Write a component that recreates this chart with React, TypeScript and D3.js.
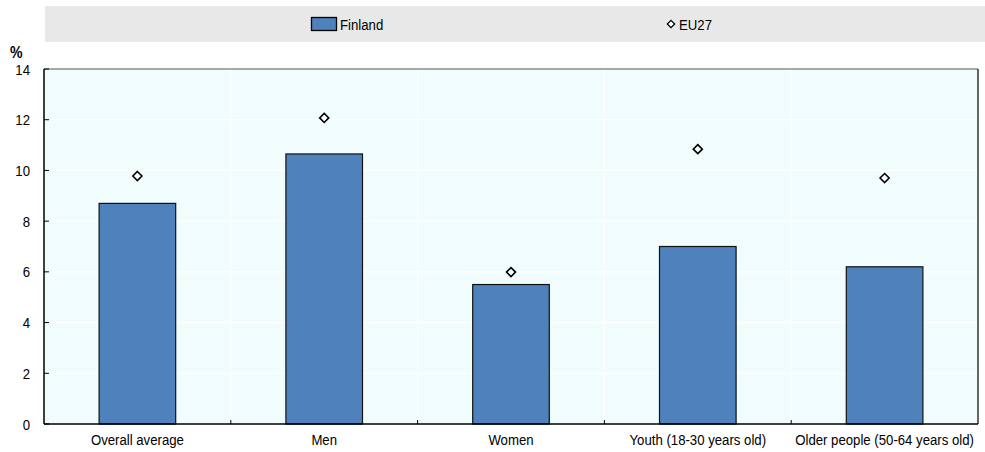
import React from "react";
import * as d3 from "d3";

const categories = ["Overall average", "Men", "Women", "Youth (18-30 years old)", "Older people (50-64 years old)"];
const finland = [8.7, 10.65, 5.5, 7.0, 6.2];
const eu27 = [9.78, 12.07, 5.99, 10.84, 9.7];
const yTicks = [0, 2, 4, 6, 8, 10, 12, 14];

const W = 985, H = 452;
const M = { left: 44, right: 978, top: 69, bottom: 424 };
const FONT = "'Liberation Sans', Arial, sans-serif";
const SX = 0.88;
const FS = 15;

function T({ x, y, anchor = "start", children, size = FS, weight = "normal" }: any) {
  return (
    <text transform={`translate(${x},${y}) scale(${SX},1)`} fontSize={size} fontWeight={weight}
      textAnchor={anchor} fill="#000">{children}</text>
  );
}

export default function App() {
  const x = d3.scaleBand<string>().domain(categories).range([M.left, M.right]).paddingInner(0).paddingOuter(0);
  const y = d3.scaleLinear().domain([0, 14]).range([M.bottom, M.top]);
  const bw = x.bandwidth() * 0.41;
  const diamond = d3.symbol().type(d3.symbolDiamond2).size(52);
  const legDiamond = d3.symbol().type(d3.symbolDiamond2).size(34);
  return (
    <svg width={W} height={H} style={{ position: "absolute", left: 0, top: 0, fontFamily: FONT }}>
      <rect x={45} y={6} width={940} height={36} fill="#e8e8e8" />
      <rect x={311.5} y={17.5} width={25} height={13} fill="#4f81bd" stroke="#000" strokeWidth={1.3} />
      <T x={340} y={29.5}>Finland</T>
      <path d={legDiamond()!} transform="translate(671,24)" fill="#fff" stroke="#000" strokeWidth={1.3} />
      <T x={679} y={29.5}>EU27</T>

      <rect x={M.left} y={M.top} width={M.right - M.left} height={M.bottom - M.top} fill="#f1fdfd" />
      {yTicks.filter(t => t > 0 && t < 14).map(t => (
        <line key={t} x1={M.left} x2={M.right} y1={y(t)} y2={y(t)} stroke="#fff" strokeWidth={1.2} />
      ))}
      {categories.slice(1).map(c => (
        <line key={c} x1={x(c)!} x2={x(c)!} y1={M.top} y2={M.bottom} stroke="#fff" strokeWidth={1.2} />
      ))}
      {categories.map((c, i) => (
        <rect key={c} x={x(c)! + x.bandwidth() / 2 - bw / 2} y={y(finland[i])} width={bw} height={y(0) - y(finland[i])}
          fill="#4f81bd" stroke="#111" strokeWidth={1.2} />
      ))}
      {categories.map((c, i) => (
        <path key={c} d={diamond()!} transform={`translate(${x(c)! + x.bandwidth() / 2},${y(eu27[i])})`}
          fill="#fff" stroke="#000" strokeWidth={1.6} />
      ))}
      <line x1={M.left} x2={M.right} y1={M.top} y2={M.top} stroke="#555" strokeWidth={1} />
      <line x1={M.right} x2={M.right} y1={M.top} y2={M.bottom} stroke="#000" strokeWidth={1.2} />
      <line x1={M.left} x2={M.left} y1={M.top} y2={M.bottom} stroke="#000" strokeWidth={1.5} />
      <line x1={M.left} x2={M.right} y1={M.bottom} y2={M.bottom} stroke="#000" strokeWidth={1.5} />
      {yTicks.map(t => (
        <g key={t}>
          <line x1={M.left} x2={M.left + 5} y1={y(t)} y2={y(t)} stroke="#000" strokeWidth={1} />
          <T x={30} y={y(t) + 5.5} anchor="end">{t}</T>
        </g>
      ))}
      {categories.slice(1).map(c => (
        <line key={c} x1={x(c)!} x2={x(c)!} y1={M.bottom} y2={M.bottom - 4} stroke="#000" strokeWidth={1} />
      ))}
      {categories.map(c => (
        <T key={c} x={x(c)! + x.bandwidth() / 2} y={445} anchor="middle">{c}</T>
      ))}
      <T x={10} y={58} size={16} weight="bold">%</T>
    </svg>
  );
}
